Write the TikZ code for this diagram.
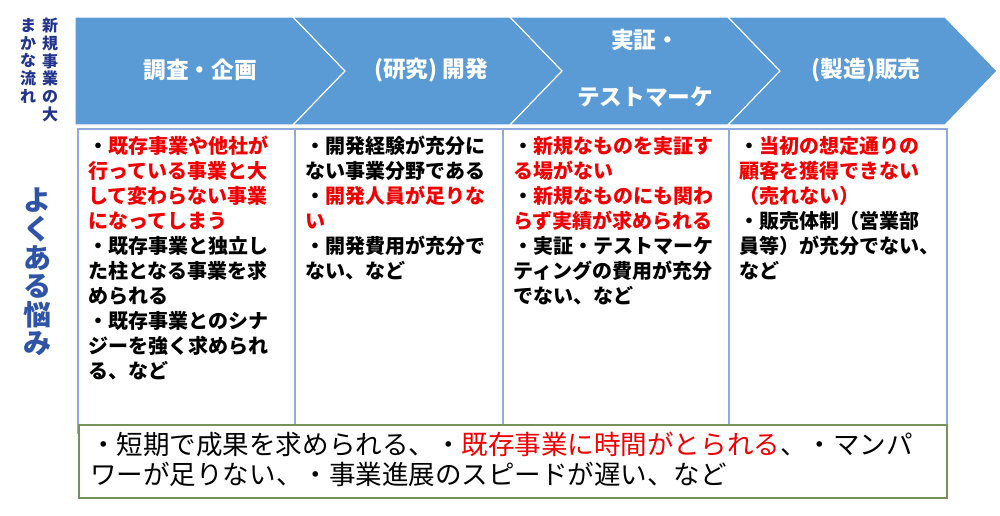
\documentclass[tikz,border=0pt]{standalone}
\usepackage{fontspec}
\setmainfont{Noto Sans CJK JP}
\definecolor{chevblue}{RGB}{91,155,213}
\definecolor{colline}{RGB}{143,170,220}
\definecolor{boxgreen}{RGB}{118,146,90}
\definecolor{jpred}{RGB}{240,0,0}
\definecolor{navy}{RGB}{47,84,166}
\definecolor{navydark}{RGB}{35,52,140}
\tikzset{
  chev/.style={fill=chevblue,draw=white,line width=0.8pt},
  colbox/.style={draw=colline,line width=1.1pt},
  headtext/.style={text=white,font=\bfseries\fontsize{17}{20}\selectfont},
  issuetext/.style={anchor=north west,inner sep=0pt,align=left,font=\bfseries\fontsize{15}{18.75}\selectfont},
}
\newcommand{\issue}[1]{\textcolor{jpred}{#1}}
\begin{document}
\begin{tikzpicture}[x=0.75pt,y=-0.75pt]
\useasboundingbox (0,0) rectangle (1000,515);
% flow of a new business
\filldraw[chev] (75,17)--(293,17)--(345,71)--(293,125)--(75,125)--cycle;
\filldraw[chev] (293,17)--(510,17)--(562,71)--(510,125)--(293,125)--(345,71)--cycle;
\filldraw[chev] (510,17)--(728,17)--(780,71)--(728,125)--(510,125)--(562,71)--cycle;
\filldraw[chev] (728,17)--(945,17)--(997,71)--(945,125)--(728,125)--(780,71)--cycle;
\node (survey) [headtext] at (200,70) {調査・企画};
\node (develop) [headtext] at (431,70) {(研究) 開発};
\node (verify) [headtext,align=center,font=\bfseries\fontsize{17}{42.75}\selectfont] at (645,68) {実証・\\テストマーケ};
\node (sales) [headtext] at (866,70) {(製造)販売};

\node (flowright) [anchor=north,inner sep=0pt,align=center,text=navydark,font=\bfseries\fontsize{12}{13.3}\selectfont] at (50,18) {新\\規\\事\\業\\の\\大};
\node (flowleft) [anchor=north,inner sep=0pt,align=center,text=navydark,font=\bfseries\fontsize{12}{13.3}\selectfont] at (28,18) {ま\\か\\な\\流\\れ};
\node (worry) [align=center,text=navy,font=\bfseries\fontsize{21}{21.4}\selectfont] at (37,272) {よ\\く\\あ\\る\\悩\\み};

% typical problems per stage
\draw[colbox] (78,129) rectangle (295,433);
\draw[colbox] (295,129) rectangle (503,433);
\draw[colbox] (503,129) rectangle (729,433);
\draw[colbox] (729,129) rectangle (947,433);
\node (surveyissue) [issuetext] at (88,136) {・\issue{既存事業や他社が}\\\issue{行っている事業と大}\\\issue{して変わらない事業}\\\issue{になってしまう}\\・既存事業と独立し\\た柱となる事業を求\\められる\\・既存事業とのシナ\\ジーを強く求められ\\る、など};
\node (developissue) [issuetext] at (305,136) {・開発経験が充分に\\ない事業分野である\\・\issue{開発人員が足りな}\\\issue{い}\\・開発費用が充分で\\ない、など};
\node (verifyissue) [issuetext] at (513,136) {・\issue{新規なものを実証す}\\\issue{る場がない}\\・\issue{新規なものにも関わ}\\\issue{らず実績が求められる}\\・実証・テストマーケ\\ティングの費用が充分\\でない、など};
\node (salesissue) [issuetext] at (739,136) {・\issue{当初の想定通りの}\\\issue{顧客を獲得できない}\\\issue{（売れない）}\\・販売体制（営業部\\員等）が充分でない、\\など};

\draw[fill=white,draw=boxgreen,line width=1.5pt] (79,425) rectangle (947,498);
\node (common) [anchor=north west,inner sep=0pt,align=left,font=\fontsize{19.9}{22.5}\selectfont] at (90,432) {・短期で成果を求められる、・\issue{既存事業に時間がとられる}、・マンパ\\ワーが足りない、・事業進展のスピードが遅い、など};
\end{tikzpicture}
\end{document}
